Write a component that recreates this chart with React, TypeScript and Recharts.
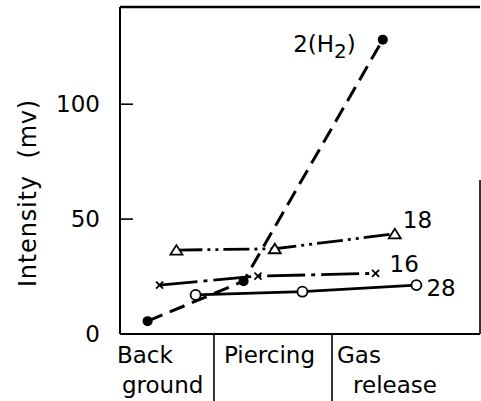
import { LineChart, Line, XAxis, YAxis, ReferenceLine, LabelList } from "recharts";

// stages along the bottom, separated by vertical rules
const stageNames = [["Back", "ground"], ["Piercing"], ["Gas", "release"]];
const stageEdges = [0, 0.783, 1.767];
const yTicks = [0, 50, 100];
const yMax = 142.3;
const xMax = 3;

// mass peaks, intensity in mv
const seriesNames = ["2(H2)", "18", "16", "28"];
const h2 = [
  { x: 0.23, y: 5.6 },
  { x: 1.03, y: 23.0 },
  { x: 2.19, y: 128.1 },
];
const m18 = [
  { x: 0.47, y: 36.5 },
  { x: 1.29, y: 37.1 },
  { x: 2.29, y: 43.6 },
];
const m16 = [
  { x: 0.33, y: 21.3 },
  { x: 1.15, y: 25.2 },
  { x: 2.13, y: 26.4 },
];
const m28 = [
  { x: 0.63, y: 17.0 },
  { x: 1.52, y: 18.4 },
  { x: 2.47, y: 21.3 },
];

const FONT = "'DejaVu Sans', sans-serif";
const INK = "#000";

const FilledDot = (p: any) => <circle key={p.index} cx={p.cx} cy={p.cy} r={5} fill={INK} />;
const OpenDot = (p: any) => <circle key={p.index} cx={p.cx} cy={p.cy} r={5} fill="#fff" stroke={INK} strokeWidth={1.8} />;
const TriDot = (p: any) => (
  <polygon
    key={p.index}
    points={`${p.cx - 6},${p.cy + 4.5} ${p.cx + 6},${p.cy + 4.5} ${p.cx},${p.cy - 5}`}
    fill="#fff"
    stroke={INK}
    strokeWidth={1.8}
  />
);
const CrossDot = (p: any) => (
  <g key={p.index} stroke={INK} strokeWidth={1.8}>
    <line x1={p.cx - 3.5} y1={p.cy - 3.5} x2={p.cx + 3.5} y2={p.cy + 3.5} />
    <line x1={p.cx - 3.5} y1={p.cy + 3.5} x2={p.cx + 3.5} y2={p.cy - 3.5} />
  </g>
);

// label next to the last point of a series
function endLabel(name: string, dx: number, dy: number, anchor: "start" | "end" = "start") {
  return (p: any) => {
    if (p.index !== 2) return null;
    const sub = name.match(/^(\d)\(H(\d)\)$/);
    return (
      <text x={p.x + dx} y={p.y + dy} fontFamily={FONT} fontSize={23} fill={INK} textAnchor={anchor}>
        {sub ? (
          <>
            {sub[1]}(H
            <tspan fontSize={20} dy={6}>{sub[2]}</tspan>
            <tspan dy={-6}>)</tspan>
          </>
        ) : (
          name
        )}
      </text>
    );
  };
}

function StageTick(props: any) {
  const { x, y, index } = props;
  const lines = stageNames[index];
  const offs = [
    [-3, 2],
    [10],
    [5, 21],
  ][index];
  return (
    <g>
      {index > 0 && <line x1={x} x2={x} y1={y} y2={401} stroke={INK} strokeWidth={1.6} />}
      {lines.map((t, i) => (
        <text key={t} x={x + offs[i]} y={y + 29 + i * 30} fontFamily={FONT} fontSize={23} fill={INK}>
          {t}
        </text>
      ))}
    </g>
  );
}

export default function App() {
  return (
    <div style={{ position: "absolute", left: 0, top: 0, background: "#fff" }}>
      <LineChart width={481} height={401} margin={{ top: 7, right: 1, bottom: 0, left: 0 }}>
        <XAxis
          type="number"
          dataKey="x"
          domain={[0, xMax]}
          ticks={stageEdges}
          interval={0}
          height={67}
          tickSize={0}
          tickMargin={0}
          tickLine={false}
          tick={<StageTick />}
          axisLine={{ stroke: INK, strokeWidth: 2 }}
        />
        <YAxis
          type="number"
          domain={[0, yMax]}
          ticks={yTicks}
          width={120}
          tickSize={-13}
          tickMargin={33}
          axisLine={{ stroke: INK, strokeWidth: 2 }}
          tickLine={{ stroke: INK, strokeWidth: 1.6 }}
          tick={{ fill: INK, fontSize: 23, fontFamily: FONT }}
          label={{
            content: () => (
              <text
                x={28}
                y={193}
                transform="rotate(-90, 28, 193)"
                textAnchor="middle"
                dominantBaseline="central"
                fontFamily={FONT}
                fontSize={24}
                letterSpacing={0.8}
                fill={INK}
              >
                {"Intensity\u00a0 (mv)"}
              </text>
            ),
          }}
        />
        <ReferenceLine y={yMax} stroke={INK} strokeWidth={2.5} ifOverflow="visible" />
        <ReferenceLine
          segment={[
            { x: xMax, y: 0 },
            { x: xMax, y: 67 },
          ]}
          stroke={INK}
          strokeWidth={1.6}
          ifOverflow="visible"
        />
        <Line
          data={h2}
          dataKey="y"
          name={seriesNames[0]}
          stroke={INK}
          strokeWidth={3}
          strokeDasharray="16 8"
          dot={FilledDot}
          activeDot={false}
          isAnimationActive={false}
        >
          <LabelList dataKey="y" content={endLabel(seriesNames[0], -27, 12, "end")} />
        </Line>
        <Line
          data={m18}
          dataKey="y"
          name={seriesNames[1]}
          stroke={INK}
          strokeWidth={2.8}
          strokeDasharray="26 5 3 5 3 5"
          dot={TriDot}
          activeDot={false}
          isAnimationActive={false}
        >
          <LabelList dataKey="y" content={endLabel(seriesNames[1], 8, -6)} />
        </Line>
        <Line
          data={m16}
          dataKey="y"
          name={seriesNames[2]}
          stroke={INK}
          strokeWidth={2.8}
          strokeDasharray="38 6 4 6"
          dot={CrossDot}
          activeDot={false}
          isAnimationActive={false}
        >
          <LabelList dataKey="y" content={endLabel(seriesNames[2], 14, -1)} />
        </Line>
        <Line
          data={m28}
          dataKey="y"
          name={seriesNames[3]}
          stroke={INK}
          strokeWidth={2.8}
          dot={OpenDot}
          activeDot={false}
          isAnimationActive={false}
        >
          <LabelList dataKey="y" content={endLabel(seriesNames[3], 10, 11)} />
        </Line>
      </LineChart>
    </div>
  );
}
